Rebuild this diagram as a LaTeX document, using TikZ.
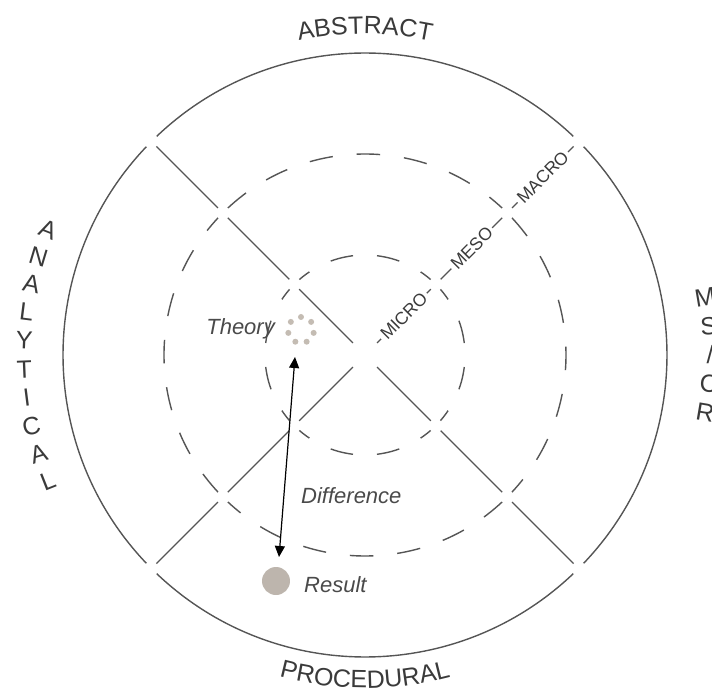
\documentclass[tikz,border=0pt]{standalone}
\usepackage{fontspec}
\setmainfont{Liberation Sans}
\usetikzlibrary{arrows.meta,decorations.text}
\definecolor{linegray}{HTML}{555555}
\definecolor{txtgray}{HTML}{3A3A3A}
\definecolor{itgray}{HTML}{4A4A4A}
\definecolor{dotbeige}{HTML}{C4BCB3}
\definecolor{resultfill}{HTML}{BDB5AD}
\begin{document}
\begin{tikzpicture}[x=1pt,y=1pt,
  solidring/.style={draw=linegray,line width=1.4pt},
  midring/.style={draw=linegray,line width=1.4pt,dash pattern=on 23.5pt off 24pt,dash phase=6.8pt},
  innring/.style={draw=linegray,line width=1.4pt,dash pattern=on 23pt off 24pt,dash phase=10.45pt},
  spoke/.style={draw=linegray,line width=1.4pt},
  scalelbl/.style={fill=white,rotate=45,inner xsep=3pt,inner ysep=1pt,text=txtgray,font=\fontsize{17.5}{20}\selectfont},
  bigletter/.style={text=txtgray,font=\fontsize{25}{28}\selectfont,inner sep=0pt},
  itlabel/.style={text=itgray,font=\fontsize{22}{25}\selectfont\itshape,inner sep=0pt},
  dblarrow/.style={{Triangle[length=11pt,width=10pt]}-{Triangle[length=11pt,width=10pt]},line width=1.2pt,draw=black}
]
\useasboundingbox (-365,-338) rectangle (347,355);

% circles, broken at the diagonals
\foreach \a in {45,135,225,315} {
  \draw[solidring] ({\a+1.4}:302) arc[start angle=\a+1.4, end angle=\a+88.6, radius=302];
  \draw[midring] ({\a+2}:201) arc[start angle=\a+2, end angle=\a+88, radius=201];
  \draw[innring] ({\a+4}:100) arc[start angle=\a+4, end angle=\a+86, radius=100];
}

% diagonals, broken at the circles
\foreach \a in {45,135,225,315} {
  \draw[spoke] (\a:17) -- (\a:93);
  \draw[spoke] (\a:107) -- (\a:194);
  \draw[spoke] (\a:208) -- (\a:295);
}

% scale labels
\node[scalelbl] (micro) at (45:55) {MICRO};
\node[scalelbl] (meso) at (45:151) {MESO};
\node[scalelbl] (macro) at (45:251.5) {MACRO};

% curved outer labels
\path[decorate,decoration={text along path,text align=center,text color=txtgray,
  text={|\fontsize{25}{28}\selectfont|ABSTRACT}}]
  (115:321) arc[start angle=115,end angle=65,radius=321];
\path[decorate,decoration={text along path,text align=center,text color=txtgray,
  text={|\fontsize{25}{28}\selectfont|PROCEDURAL}}]
  (200:333) arc[start angle=200,end angle=340,radius=333];

\foreach \ch [count=\k from 0] in {A,N,A,L,Y,T,I,C,A,L} {
  \node[bigletter,rotate={158.4+4.8*\k-180}] (an\k) at ({158.4+4.8*\k}:341) {\ch};
}
\foreach \ch [count=\k from 0] in {M,S,/,C,R} {
  \node[bigletter,rotate={9.6-4.8*\k}] (rt\k) at ({9.6-4.8*\k}:345) {\ch};
}

% theory, result, difference
\node[circle,minimum size=26pt,inner sep=0pt] (theoryring) at (-64,25) {};
\foreach \k in {0,...,6} {
  \fill[dotbeige] (theoryring.center) ++({90-51.43*\k}:13) circle (3);
}
\node[itlabel,anchor=base east] (theory) at (-90,20) {Theory};
\node[circle,fill=resultfill,minimum size=28pt,inner sep=0pt] (result) at (-89,-226) {};
\node[itlabel,anchor=base west] (resultlbl) at (-61,-237) {Result};
\node[itlabel,anchor=base west] (difference) at (-64,-148) {Difference};

\coordinate (arrtop) at (-70,-2);
\coordinate (arrbot) at (-86,-202);
\draw[dblarrow] (arrtop) -- (arrbot);
\end{tikzpicture}
\end{document}
